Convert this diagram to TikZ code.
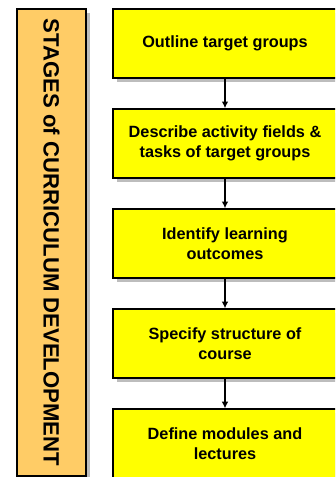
\documentclass[tikz,border=0pt]{standalone}
\usepackage{fontspec}
\setmainfont{Liberation Sans}
\usetikzlibrary{positioning,shadows,arrows.meta}

\definecolor{barorange}{HTML}{FFCC66}
\definecolor{stageyellow}{HTML}{FFFF00}
\definecolor{shadowgray}{HTML}{BDBDBD}

\tikzset{
  boxshadow/.style={drop shadow={shadow xshift=3pt,shadow yshift=-3pt,fill=shadowgray,opacity=1}},
  stagebox/.style={draw=black,line width=1.3pt,fill=stageyellow,boxshadow,
    minimum width=168pt,minimum height=51.75pt,align=center,
    font=\fontsize{12.2}{15}\selectfont\bfseries},
  titlebar/.style={draw=black,line width=1.3pt,fill=barorange,boxshadow,
    minimum width=51.75pt,minimum height=350.25pt},
  flow/.style={line width=1.5pt,-{Latex[length=5pt,width=5pt]}}
}

\begin{document}
\begin{tikzpicture}[x=0.75pt,y=-0.75pt]
    \useasboundingbox (0,0) rectangle (335,477);
    \clip (0,0) rectangle (335,477);
    % left bar
    \node [titlebar] (bar) at (51.5,242.5) {};
    \node [rotate=-90,font=\fontsize{16.6}{18}\selectfont\bfseries] (bartext) at (bar.center) {STAGES of CURRICULUM DEVELOPMENT};
    % stages
    \node [stagebox] (s1) at (225,43.5) {Outline target groups};
    \node [stagebox,below=22pt of s1] (s2) {Describe activity fields \&\\tasks of target groups};
    \node [stagebox,below=22pt of s2] (s3) {Identify learning\\outcomes};
    \node [stagebox,below=22pt of s3] (s4) {Specify structure of\\course};
    \node [stagebox,below=22pt of s4] (s5) {Define modules and\\lectures};
    \draw [flow] (s1)--(s2);
    \draw [flow] (s2)--(s3);
    \draw [flow] (s3)--(s4);
    \draw [flow] (s4)--(s5);
\end{tikzpicture}
\end{document}
